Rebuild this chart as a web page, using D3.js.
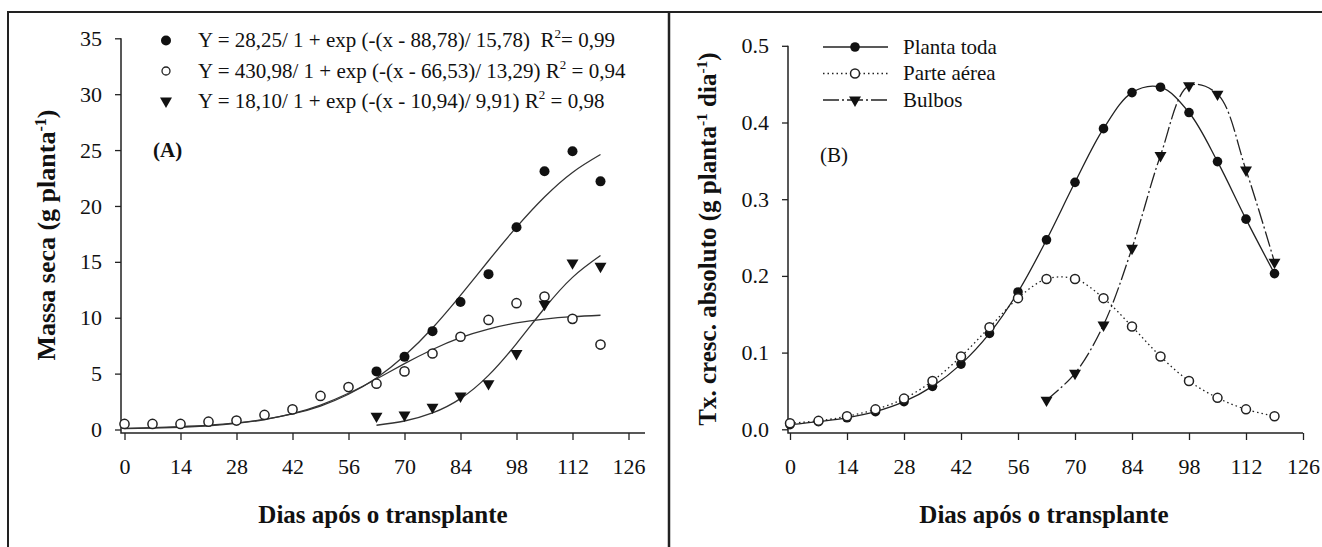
<!DOCTYPE html>
<meta charset="utf-8">
<script src="https://d3js.org/d3.v7.min.js"></script>
<style>
body { margin: 0; background: #fff; }
svg text { font-family: "Liberation Serif", "Times New Roman", serif; fill: #111; }
</style>
<div id="chart"></div>
<script>

// days after transplant
var dias = [0, 7, 14, 21, 28, 35, 42, 49, 56, 63, 70, 77, 84, 91, 98, 105, 112, 119];
var diasBulbos = [63, 70, 77, 84, 91, 98, 105, 112, 119];
var xTicks = [0, 14, 28, 42, 56, 70, 84, 98, 112, 126];
var yTicksA = [0, 5, 10, 15, 20, 25, 30, 35];
var yTicksB = [0, 0.1, 0.2, 0.3, 0.4, 0.5];

// (A) dry mass, observed (g planta-1)
var massaPlantaToda = [5.2, 6.5, 8.8, 11.4, 13.9, 18.1, 23.1, 24.9, 22.2];         // at diasBulbos
var massaParteAerea = [0.5, 0.5, 0.5, 0.7, 0.8, 1.3, 1.8, 3.0, 3.8, 4.1, 5.2, 6.8, 8.3, 9.8, 11.3, 11.9, 9.9, 7.6];
var massaBulbos = [1.2, 1.3, 2.0, 3.0, 4.1, 6.8, 11.2, 14.9, 14.6];                 // at diasBulbos

// (A) fitted curves
var ajustePlantaToda = [0.10, 0.16, 0.25, 0.38, 0.59, 0.91, 1.39, 2.10, 3.15, 4.61, 6.59, 9.08, 12.0, 15.1, 18.1, 20.8, 23.0, 24.6];
var ajusteParteAerea = [0.07, 0.12, 0.20, 0.33, 0.54, 0.89, 1.42, 2.19, 3.24, 4.52, 5.89, 7.16, 8.22, 8.99, 9.53, 9.88, 10.09, 10.22];
var ajusteBulbos = [0.38, 0.76, 1.48, 2.76, 4.84, 7.69, 10.85, 13.61, 15.56];       // at diasBulbos

// (B) absolute growth rate (g planta-1 dia-1)
var taxaPlantaToda = [0.006, 0.010, 0.015, 0.023, 0.036, 0.056, 0.085, 0.125, 0.179, 0.247, 0.322, 0.392, 0.439, 0.446, 0.413, 0.349, 0.274, 0.203];
var taxaParteAerea = [0.008, 0.011, 0.017, 0.026, 0.040, 0.063, 0.095, 0.133, 0.171, 0.196, 0.196, 0.171, 0.134, 0.095, 0.063, 0.041, 0.026, 0.017];
var taxaBulbos = [0.038, 0.073, 0.136, 0.236, 0.357, 0.448, 0.437, 0.338, 0.218];  // at diasBulbos

var legendaA = [
  ["Y = 28,25/ 1 + exp (-(x - 88,78)/ 15,78)  R", "= 0,99"],
  ["Y = 430,98/ 1 + exp (-(x - 66,53)/ 13,29) R", " = 0,94"],
  ["Y = 18,10/ 1 + exp (-(x - 10,94)/ 9,91) R", " = 0,98"]
];
var legendaB = ["Planta toda", "Parte aérea", "Bulbos"];

var svg = d3.select("#chart")
  .append("svg")
    .attr("width", 1322)
    .attr("height", 547);

// outer frame and panel separator
svg.append("path")
  .attr("d", "M8,547V12H1322")
  .attr("fill", "none")
  .attr("stroke", "#222")
  .attr("stroke-width", 2);
svg.append("line")
  .attr("x1", 669).attr("x2", 669)
  .attr("y1", 12).attr("y2", 547)
  .attr("stroke", "#222")
  .attr("stroke-width", 2.5);

// markers
var triangle = d3.symbol().type(d3.symbolTriangle).size(62);

function filledDots(g, xs, ys, x, y, r) {
  g.selectAll(null).data(ys).enter().append("circle")
    .attr("cx", function(d, i) { return x(xs[i]); })
    .attr("cy", function(d) { return y(d); })
    .attr("r", r)
    .attr("fill", "#111");
}
function openDots(g, xs, ys, x, y, r) {
  g.selectAll(null).data(ys).enter().append("circle")
    .attr("cx", function(d, i) { return x(xs[i]); })
    .attr("cy", function(d) { return y(d); })
    .attr("r", r)
    .attr("fill", "#fff")
    .attr("stroke", "#222")
    .attr("stroke-width", 1.5);
}
function triangles(g, xs, ys, x, y) {
  g.selectAll(null).data(ys).enter().append("path")
    .attr("d", triangle)
    .attr("transform", function(d, i) { return "translate(" + x(xs[i]) + "," + y(d) + ") rotate(180)"; })
    .attr("fill", "#111");
}

function drawAxes(x, y, yTicks, fmt, axisX, axisY, xLineEnd) {
  var gx = svg.append("g")
    .attr("transform", "translate(0," + axisY + ")")
    .call(d3.axisBottom(x).tickValues(xTicks).tickSize(7).tickPadding(18).tickSizeOuter(0));
  gx.select(".domain").remove();
  var gy = svg.append("g")
    .attr("transform", "translate(" + axisX + ",0)")
    .call(d3.axisLeft(y).tickValues(yTicks).tickFormat(fmt).tickSize(6).tickPadding(13).tickSizeOuter(0));
  gy.select(".domain").remove();
  [gx, gy].forEach(function(g) {
    g.attr("font-size", 22).attr("font-family", null);
    g.selectAll("line").attr("stroke", "#222").attr("stroke-width", 1.3);
    g.selectAll("text").attr("fill", "#111");
  });
  svg.append("path")
    .attr("d", "M" + axisX + "," + y.range()[1] + "V" + axisY + "H" + xLineEnd)
    .attr("fill", "none")
    .attr("stroke", "#222")
    .attr("stroke-width", 1.5);
}

function supText(sel, parts) {
  // parts: alternating normal text and superscript
  parts.forEach(function(p, i) {
    var t = sel.append("tspan").text(p);
    if (i % 2 == 1) t.attr("dy", -9).attr("font-size", "0.62em");
    else if (i > 0) t.attr("dy", 9);
  });
}

// ---------------- Panel A ----------------
var xA = d3.scaleLinear().domain([0, 126]).range([124.5, 628.5]);
var yA = d3.scaleLinear().domain([0, 35]).range([429.5, 38.3]);
drawAxes(xA, yA, yTicksA, d3.format("d"), 121, 433, 645);

var fitLineA = d3.line().curve(d3.curveNatural);
var gA = svg.append("g");
[[dias, ajustePlantaToda], [dias, ajusteParteAerea], [diasBulbos, ajusteBulbos]].forEach(function(s) {
  gA.append("path")
    .attr("d", fitLineA(s[1].map(function(v, i) { return [xA(s[0][i]), yA(v)]; })))
    .attr("fill", "none")
    .attr("stroke", "#333")
    .attr("stroke-width", 1.3);
});
filledDots(gA, diasBulbos, massaPlantaToda, xA, yA, 5);
openDots(gA, dias, massaParteAerea, xA, yA, 4.6);
triangles(gA, diasBulbos, massaBulbos, xA, yA);

// legend A
var legYA = [40.5, 71, 101];
svg.append("circle").attr("cx", 166).attr("cy", legYA[0]).attr("r", 5).attr("fill", "#111");
svg.append("circle").attr("cx", 166).attr("cy", legYA[1]).attr("r", 4).attr("fill", "#fff").attr("stroke", "#222").attr("stroke-width", 1.3);
svg.append("path").attr("d", triangle).attr("transform", "translate(166," + legYA[2] + ") rotate(180)").attr("fill", "#111");
legendaA.forEach(function(l, i) {
  var t = svg.append("text")
    .attr("x", 198)
    .attr("y", legYA[i])
    .attr("dy", "0.33em")
    .attr("font-size", 21)
    .style("white-space", "pre");
  supText(t, [l[0], "2", l[1]]);
});

svg.append("text")
  .attr("x", 153).attr("y", 150).attr("dy", "0.33em")
  .attr("font-size", 21).attr("font-weight", 700)
  .text("(A)");

var ylabA = svg.append("text")
  .attr("transform", "translate(46,235) rotate(-90)")
  .attr("text-anchor", "middle")
  .attr("dy", "0.33em")
  .attr("font-size", 26).attr("font-weight", 700);
supText(ylabA, ["Massa seca (g planta", "-1", ")"]);

svg.append("text")
  .attr("x", 383).attr("y", 515).attr("dy", "0.33em")
  .attr("text-anchor", "middle")
  .attr("font-size", 25).attr("font-weight", 700)
  .text("Dias após o transplante");

// ---------------- Panel B ----------------
var xB = d3.scaleLinear().domain([0, 126]).range([790, 1303]);
var yB = d3.scaleLinear().domain([0, 0.5]).range([429.3, 45.8]);
drawAxes(xB, yB, yTicksB, d3.format(".1f"), 788, 433, 1303);

var lineB = d3.line().curve(d3.curveCatmullRom.alpha(0.5));
var gB = svg.append("g");
var estilos = [
  {xs: dias, ys: taxaPlantaToda, dash: null},
  {xs: dias, ys: taxaParteAerea, dash: "1.5,3"},
  {xs: diasBulbos, ys: taxaBulbos, dash: "16,3,2,3"}
];
estilos.forEach(function(s) {
  gB.append("path")
    .attr("d", lineB(s.ys.map(function(v, i) { return [xB(s.xs[i]), yB(v)]; })))
    .attr("fill", "none")
    .attr("stroke", "#222")
    .attr("stroke-width", 1.3)
    .attr("stroke-dasharray", s.dash);
});
filledDots(gB, dias, taxaPlantaToda, xB, yB, 4.8);
openDots(gB, dias, taxaParteAerea, xB, yB, 4.5);
triangles(gB, diasBulbos, taxaBulbos, xB, yB);

// legend B
var legYB = [47, 73.5, 100];
legendaB.forEach(function(name, i) {
  svg.append("line")
    .attr("x1", 823).attr("x2", 888)
    .attr("y1", legYB[i]).attr("y2", legYB[i])
    .attr("stroke", "#222").attr("stroke-width", 1.3)
    .attr("stroke-dasharray", estilos[i].dash);
  svg.append("text")
    .attr("x", 903).attr("y", legYB[i]).attr("dy", "0.33em")
    .attr("font-size", 21)
    .text(name);
});
svg.append("circle").attr("cx", 855).attr("cy", legYB[0]).attr("r", 4.8).attr("fill", "#111");
svg.append("circle").attr("cx", 855).attr("cy", legYB[1]).attr("r", 4.5).attr("fill", "#fff").attr("stroke", "#222").attr("stroke-width", 1.5);
svg.append("path").attr("d", triangle).attr("transform", "translate(855," + legYB[2] + ") rotate(180)").attr("fill", "#111");

svg.append("text")
  .attr("x", 820).attr("y", 155).attr("dy", "0.33em")
  .attr("font-size", 21)
  .text("(B)");

var ylabB = svg.append("text")
  .attr("transform", "translate(708,239) rotate(-90)")
  .attr("text-anchor", "middle")
  .attr("dy", "0.33em")
  .attr("font-size", 25).attr("font-weight", 700);
supText(ylabB, ["Tx. cresc. absoluto (g planta", "-1", " dia", "-1", ")"]);

svg.append("text")
  .attr("x", 1044).attr("y", 515).attr("dy", "0.33em")
  .attr("text-anchor", "middle")
  .attr("font-size", 25).attr("font-weight", 700)
  .text("Dias após o transplante");

</script>
